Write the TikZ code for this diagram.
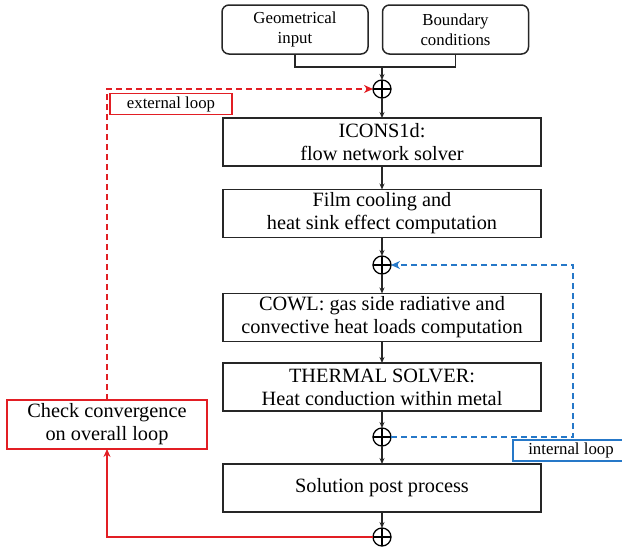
\documentclass[tikz,border=0pt]{standalone}
\usepackage{fontspec}
\setmainfont{Liberation Serif}
\usetikzlibrary{arrows.meta}
\definecolor{loopred}{RGB}{226,30,36}
\definecolor{loopblue}{RGB}{38,120,200}
\begin{document}
\begin{tikzpicture}[x=1pt,y=-1pt,
  every node/.style={inner sep=0pt, outer sep=0pt},
  mainbox/.style={draw=black!85, line width=1.5pt, minimum width=318pt, minimum height=48pt, align=center, font=\fontsize{20.3}{23}\selectfont},
  inbox/.style={draw=black!85, line width=1.5pt, rounded corners=7pt, minimum width=146pt, minimum height=49pt, align=center, font=\fontsize{16.8}{20}\selectfont},
  sumnode/.style={circle, draw=black, line width=1.3pt, minimum size=18pt,
     path picture={\draw[line width=1.3pt] (path picture bounding box.north) -- (path picture bounding box.south)
       (path picture bounding box.west) -- (path picture bounding box.east);}},
  flow/.style={draw=black!85, line width=1.3pt, -{Stealth[length=6pt,width=5pt]}},
  labelbox/.style={line width=1.6pt, minimum height=21pt, font=\fontsize{16.8}{20}\selectfont},
]
\useasboundingbox (0,0) rectangle (622,550);
\clip (0,0) rectangle (622,550);

\node[inbox] (geo) at (295,29.5) {Geometrical\\input};
\node[inbox] (bc) at (455.5,29.5) {Boundary\\conditions};

\node[sumnode] (s1) at (382,89) {};
\node[mainbox] (icons) at (382,142) {ICONS1d:\\flow network solver};
\node[mainbox] (film) at (382,213.5) {Film cooling and\\heat sink effect computation};
\node[sumnode] (s2) at (382,265) {};
\node[mainbox] (cowl) at (382,317.5) {COWL: gas side radiative and\\convective heat loads computation};
\node[mainbox] (thermal) at (382,387) {THERMAL SOLVER:\\Heat conduction within metal};
\node[sumnode] (s3) at (382,437) {};
\node[mainbox] (post) at (382,488) {Solution post process};
\node[sumnode] (s4) at (382,537) {};

\node[draw=loopred, line width=2.6pt, minimum width=200pt, minimum height=49pt, align=center,
  font=\fontsize{20.3}{23}\selectfont] (check) at (107,424.5) {Check convergence\\on overall loop};

\node[labelbox, draw=loopred, minimum width=122pt] (ext) at (171,104) {external loop};
\node[labelbox, draw=loopblue, minimum width=116pt, anchor=west] (int) at (513,450.5) {internal loop};

\coordinate (br) at (382,67);
\draw[draw=black!85, line width=1.5pt] (geo.south) |- (br) -| (bc.south);
\draw[flow] (br) -- (s1);
\draw[flow] (s1) -- (icons);
\draw[flow] (icons) -- (film);
\draw[flow] (film) -- (s2);
\draw[flow] (s2) -- (cowl);
\draw[flow] (cowl) -- (thermal);
\draw[flow] (thermal) -- (s3);
\draw[flow] (s3) -- (post);
\draw[flow] (post) -- (s4);

\draw[draw=loopred, line width=1.7pt, -{Stealth[length=8pt,width=7pt]}] (s4.west) -| (check.south);
\draw[draw=loopred, line width=2.2pt, dash pattern=on 6pt off 4pt, -{Stealth[length=9pt,width=8pt]}]
  (check.north) |- (s1.west);
\draw[draw=loopblue, line width=1.8pt, dash pattern=on 6pt off 4pt, -{Stealth[length=9pt,width=8pt]}]
  (s3.east) -| (573,265) -- (s2.east);
\end{tikzpicture}
\end{document}
